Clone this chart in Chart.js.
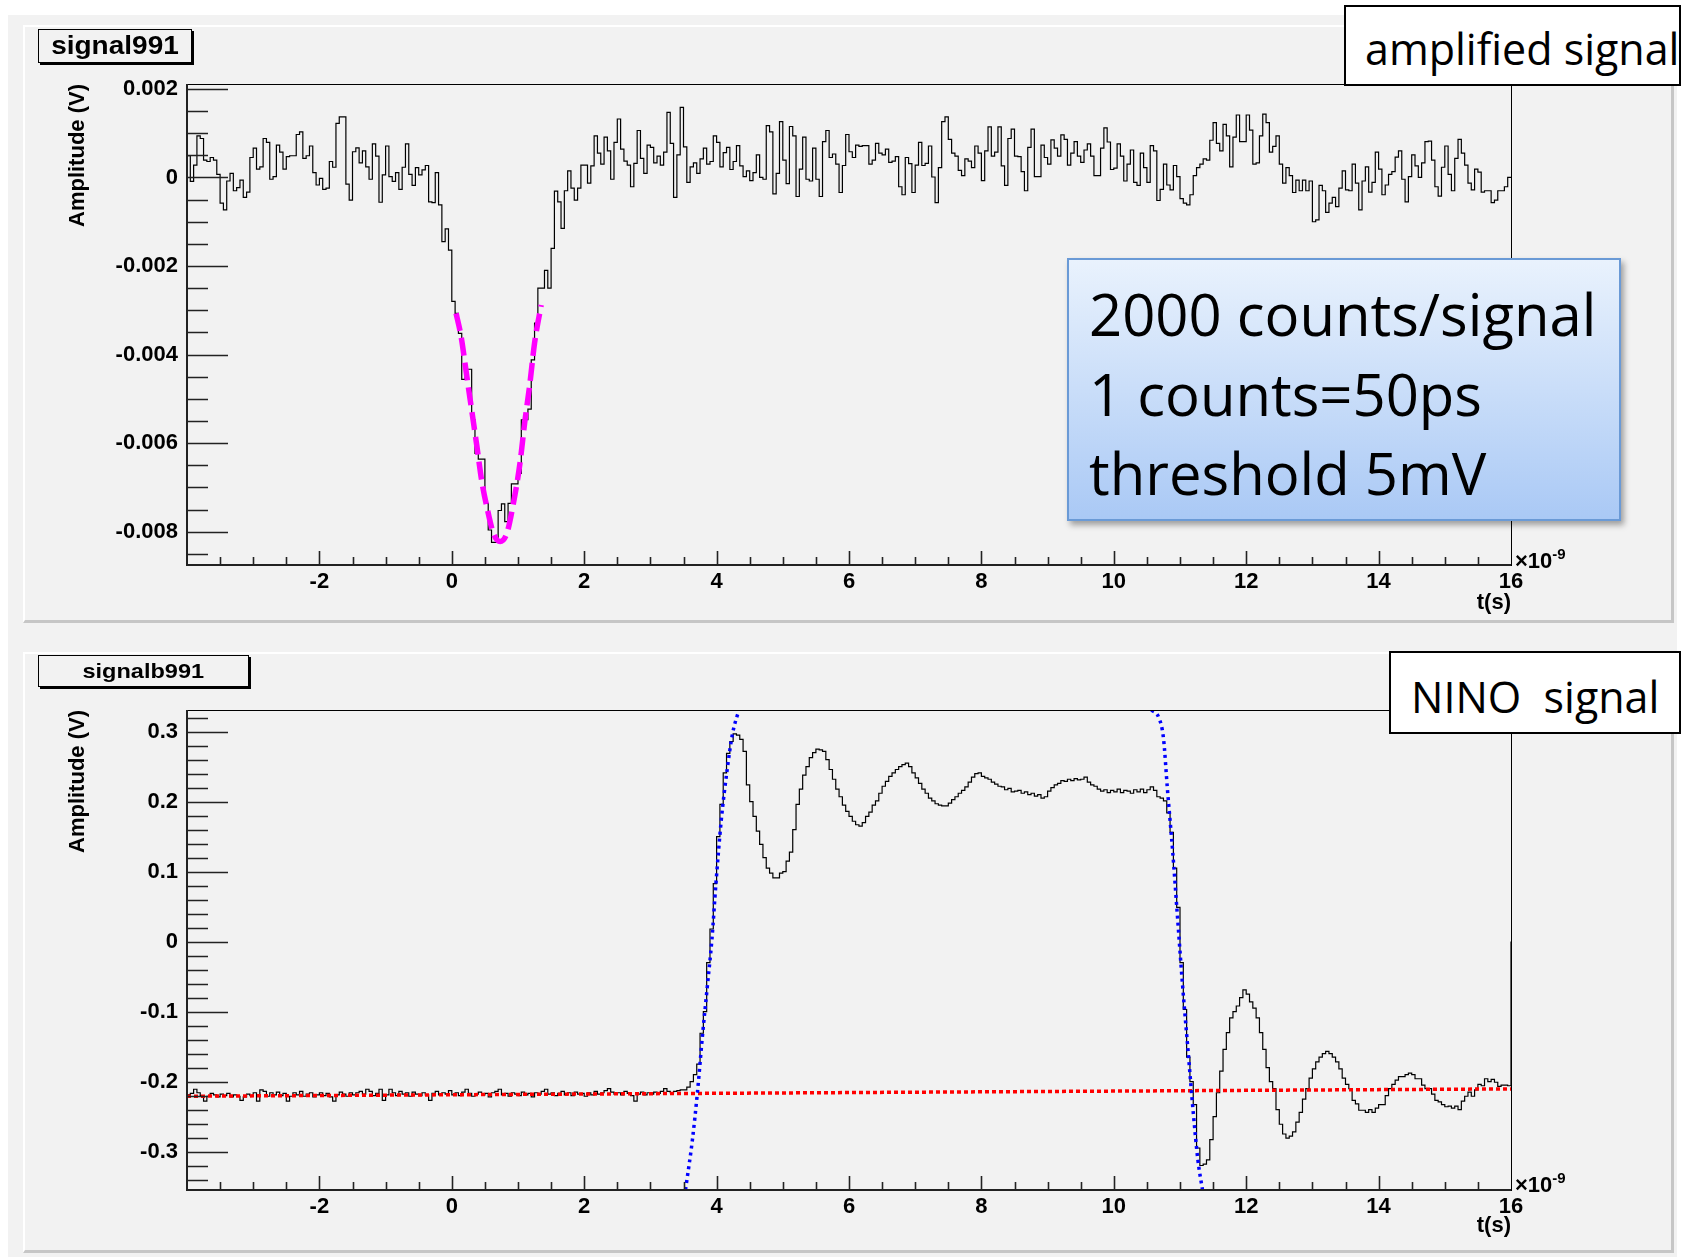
<!DOCTYPE html>
<html>
<head>
<meta charset="utf-8">
<script src="https://cdn.jsdelivr.net/npm/chart.js@4.4.0/dist/chart.umd.min.js"></script>
<style>
    body { margin: 0; width: 1683px; height: 1257px; background: #fff; position: relative; overflow: hidden; font-family: 'Liberation Sans', Arial, sans-serif; }
    #fundo { position: absolute; left: 8px; top: 15px; width: 1669px; height: 1242px; background: #f2f2f2; }
    .pad { position: absolute; left: 23px; width: 1651px; box-sizing: border-box; background: #f2f2f2;
           border-top: 2px solid #fff; border-left: 2px solid #fff; border-right: 3px solid #c6c6c6; border-bottom: 3px solid #c6c6c6; }
    canvas { position: absolute; left: 23px; }
    .titulo { position: absolute; left: 38px; box-sizing: border-box; border: 1px solid #000; box-shadow: 2px 2px 0 #000;
              background: #f2f2f2; text-align: center; font-weight: bold; }
    .titulo span { display: inline-block; transform: scaleX(1.12); }
    .expoente { position: absolute; left: 1515px; font: bold 22px 'Liberation Sans', Arial, sans-serif; line-height: 22px; }
    .expoente sup { font-size: 15px; vertical-align: 9px; }
    .rotulo { position: absolute; background: #fff; border: 2px solid #000; box-sizing: border-box;
              font-family: 'Open Sans', sans-serif; font-size: 43px; white-space: pre; }
    #caixaInfo { position: absolute; left: 1067px; top: 258px; width: 554px; height: 263px; box-sizing: border-box;
                 background: linear-gradient(#e9f2fd, #aac9f5); border: 2px solid #6a9ad6; box-shadow: 3px 4px 6px rgba(0,0,0,0.35);
                 font-family: 'Open Sans', sans-serif; font-size: 58px; line-height: 79.5px; padding: 14px 0 0 20px; color: #000; }
</style>
</head>
<body>
<div id="fundo"></div>
<div class="pad" style="top:25px; height:598px;"></div>
<div class="pad" style="top:652px; height:601px;"></div>

<canvas id="painelTopo" width="1651" height="598" style="top:25px;"></canvas>
<canvas id="painelBaixo" width="1651" height="601" style="top:652px;"></canvas>

<div class="titulo" style="top:29px; width:154px; height:34px; font-size:25px; line-height:31px;"><span>signal991</span></div>
<div class="titulo" style="top:655px; width:211px; height:32px; font-size:21px; line-height:29px;"><span>signalb991</span></div>

<div class="expoente" style="top:543px;">×10<sup>-9</sup></div>
<div class="expoente" style="top:1167px;">×10<sup>-9</sup></div>

<div class="rotulo" style="left:1344px; top:5px; width:337px; height:81px; line-height:74px; padding:5px 0 0 19px;">amplified signal</div>
<div class="rotulo" style="left:1389px; top:651px; width:292px; height:83px; line-height:74px; padding:7px 0 0 20px;">NINO  signal</div>

<div id="caixaInfo">2000 counts/signal<br>1 counts=50ps<br>threshold 5mV</div>

<script>
// histogramas: 400 bins de 50 ps, de -4 ns a 16 ns
var inicioBins = -4;
var larguraBin = 0.05;

// signal991 (amplitude em mV)
var sinalAmplificado = [
    0.49, -0.09, 0.28, 0.94, 0.88, 0.39, 0.36, 0.45, 0.39, 0.07,
    -0.58, -0.73, -0.08, 0.09, -0.30, -0.23, -0.06, -0.45, -0.33, 0.45,
    0.66, 0.19, 0.24, 0.88, 0.79, -0.04, 0.02, 0.73, 0.57, 0.19,
    0.47, 0.49, 0.49, 0.97, 1.03, 0.43, 0.49, 0.71, 0.11, -0.17,
    -0.02, -0.27, -0.24, 0.36, 0.23, 1.22, 1.37, 1.37, -0.15, -0.51,
    0.58, 0.67, 0.33, 0.60, 0.24, -0.04, 0.76, 0.48, -0.56, 0.06,
    0.71, 0.02, -0.09, 0.11, -0.27, 0.23, 0.76, 0.07, -0.18, 0.22,
    0.06, 0.17, 0.27, -0.55, -0.57, 0.11, -0.62, -1.45, -1.16, -1.64,
    -2.80, -3.07, -3.52, -4.56, -4.33, -4.33, -5.47, -6.23, -6.36, -6.36,
    -7.36, -7.96, -8.24, -8.24, -7.52, -7.37, -7.77, -7.36, -6.92, -6.92,
    -6.68, -5.47, -5.47, -5.23, -4.12, -3.29, -2.50, -2.50, -2.10, -2.50,
    -1.60, -0.31, -0.55, -1.15, -0.30, 0.15, -0.24, -0.51, -0.24, 0.28,
    0.28, -0.13, 0.26, 0.94, 0.55, 0.30, 0.91, 0.60, -0.04, 0.79,
    1.32, 0.64, 0.37, 0.28, -0.21, 0.32, 1.06, 0.43, 0.09, 0.73,
    0.68, 0.33, 0.48, 0.28, 0.57, 1.47, 0.77, -0.45, 0.51, 1.58,
    0.69, -0.11, 0.24, 0.33, 0.09, 0.42, 0.66, 0.30, 0.36, 0.94,
    0.79, 0.24, 0.56, 0.68, 0.18, 0.36, 0.72, 0.26, 0.02, 0.15,
    -0.07, 0.11, 0.51, 0.00, -0.04, 1.17, 1.03, -0.37, 0.09, 1.26,
    0.39, -0.14, 1.15, 0.94, -0.43, 0.19, 0.91, -0.04, -0.08, 0.66,
    -0.04, -0.43, 0.81, 1.06, 0.45, 0.53, 0.30, -0.34, 0.27, 0.97,
    0.58, 0.45, 0.73, 0.70, 0.72, 0.72, 0.30, 0.39, 0.77, 0.55,
    0.51, 0.64, 0.34, 0.37, 0.47, -0.21, -0.39, 0.45, 0.31, -0.34,
    0.28, 0.79, 0.27, 0.32, 0.71, 0.01, -0.57, 0.22, 1.26, 1.37,
    0.86, 0.55, 0.48, 0.16, 0.04, 0.42, 0.37, 0.22, 0.71, 0.55,
    -0.07, 0.60, 1.14, 0.48, 0.57, 1.14, 0.26, -0.18, 0.88, 1.09,
    0.48, 0.47, 0.13, -0.30, 0.68, 1.09, 0.02, 0.02, 0.73, 0.45,
    0.30, 0.85, 0.66, 0.48, 0.96, 0.86, 0.28, 0.55, 0.81, 0.48,
    0.34, 0.62, 0.76, 0.48, 0.04, 0.04, 0.66, 1.12, 0.80, 0.18,
    0.21, 0.76, 0.48, -0.08, 0.30, 0.62, -0.11, -0.18, 0.55, 0.22,
    -0.11, 0.72, 0.60, -0.52, -0.27, 0.30, -0.17, -0.28, 0.27, 0.02,
    -0.48, -0.58, -0.62, -0.39, 0.04, 0.22, 0.30, 0.42, 0.39, 0.84,
    1.24, 0.77, 0.60, 1.20, 0.94, 0.24, 0.91, 1.41, 0.81, 0.81,
    1.41, 1.07, 0.30, 0.33, 0.94, 1.43, 1.24, 0.57, 0.70, 0.94,
    0.30, -0.13, 0.22, 0.04, -0.34, -0.06, -0.30, -0.06, -0.30, -0.08,
    -1.00, -0.96, -0.18, -0.30, -0.79, -0.58, -0.45, -0.66, -0.24, 0.15,
    -0.28, -0.30, 0.30, -0.13, -0.73, -0.08, 0.24, -0.33, -0.11, 0.57,
    0.19, -0.39, -0.17, 0.07, 0.13, 0.46, 0.60, -0.04, -0.55, 0.02,
    0.51, 0.26, 0.00, 0.33, 0.81, 0.82, 0.39, -0.21, -0.42, 0.23,
    0.71, 0.07, -0.30, 0.43, 0.86, 0.55, 0.28, -0.13, -0.28, 0.19,
    0.12, -0.33, -0.30, -0.30, -0.57, -0.51, -0.30, -0.30, -0.21, 0.00
];

// signalb991 (amplitude em V)
var sinalNino = [
    -0.219, -0.217, -0.211, -0.216, -0.220, -0.228, -0.221, -0.217, -0.219, -0.222,
    -0.218, -0.220, -0.217, -0.222, -0.219, -0.221, -0.227, -0.222, -0.218, -0.220,
    -0.216, -0.228, -0.212, -0.214, -0.221, -0.216, -0.219, -0.215, -0.220, -0.217,
    -0.228, -0.221, -0.216, -0.219, -0.214, -0.221, -0.218, -0.216, -0.222, -0.219,
    -0.216, -0.220, -0.217, -0.222, -0.228, -0.219, -0.215, -0.218, -0.221, -0.216,
    -0.219, -0.216, -0.214, -0.218, -0.211, -0.214, -0.220, -0.217, -0.211, -0.227,
    -0.219, -0.211, -0.216, -0.220, -0.214, -0.218, -0.216, -0.221, -0.215, -0.218,
    -0.220, -0.216, -0.219, -0.227, -0.217, -0.214, -0.219, -0.216, -0.218, -0.213,
    -0.219, -0.216, -0.220, -0.215, -0.211, -0.217, -0.221, -0.218, -0.215, -0.219,
    -0.217, -0.222, -0.216, -0.214, -0.211, -0.219, -0.217, -0.221, -0.216, -0.218,
    -0.220, -0.215, -0.219, -0.217, -0.222, -0.216, -0.218, -0.214, -0.211, -0.218,
    -0.216, -0.220, -0.217, -0.214, -0.219, -0.216, -0.220, -0.215, -0.218, -0.217,
    -0.221, -0.216, -0.219, -0.214, -0.218, -0.216, -0.213, -0.210, -0.215, -0.218,
    -0.216, -0.219, -0.214, -0.217, -0.220, -0.228, -0.218, -0.215, -0.219, -0.216,
    -0.218, -0.215, -0.217, -0.214, -0.210, -0.214, -0.216, -0.214, -0.213, -0.212,
    -0.212, -0.208, -0.200, -0.190, -0.175, -0.131, -0.100, -0.030, 0.018, 0.083,
    0.150, 0.196, 0.241, 0.269, 0.286, 0.297, 0.295, 0.289, 0.272, 0.224,
    0.200, 0.179, 0.158, 0.139, 0.120, 0.105, 0.098, 0.091, 0.091, 0.098,
    0.100, 0.115, 0.128, 0.160, 0.196, 0.218, 0.238, 0.250, 0.263, 0.270,
    0.275, 0.274, 0.272, 0.260, 0.246, 0.232, 0.218, 0.207, 0.195, 0.186,
    0.179, 0.172, 0.167, 0.165, 0.170, 0.179, 0.185, 0.195, 0.201, 0.212,
    0.222, 0.229, 0.236, 0.241, 0.246, 0.250, 0.253, 0.255, 0.250, 0.241,
    0.234, 0.226, 0.218, 0.212, 0.205, 0.201, 0.197, 0.195, 0.194, 0.194,
    0.198, 0.203, 0.207, 0.212, 0.216, 0.221, 0.228, 0.235, 0.240, 0.241,
    0.236, 0.234, 0.232, 0.228, 0.225, 0.222, 0.221, 0.217, 0.219, 0.214,
    0.215, 0.216, 0.212, 0.214, 0.210, 0.212, 0.208, 0.210, 0.205, 0.207,
    0.215, 0.220, 0.224, 0.226, 0.230, 0.229, 0.232, 0.230, 0.233, 0.231,
    0.232, 0.235, 0.228, 0.224, 0.222, 0.218, 0.215, 0.217, 0.213, 0.216,
    0.214, 0.218, 0.213, 0.216, 0.215, 0.212, 0.217, 0.214, 0.218, 0.213,
    0.217, 0.221, 0.216, 0.207, 0.205, 0.201, 0.184, 0.156, 0.105, 0.049,
    -0.030, -0.097, -0.165, -0.200, -0.233, -0.295, -0.320, -0.318, -0.312, -0.283,
    -0.250, -0.216, -0.185, -0.154, -0.130, -0.109, -0.100, -0.092, -0.080, -0.069,
    -0.075, -0.086, -0.095, -0.109, -0.130, -0.154, -0.180, -0.200, -0.210, -0.240,
    -0.261, -0.275, -0.281, -0.278, -0.272, -0.258, -0.244, -0.225, -0.210, -0.195,
    -0.182, -0.172, -0.165, -0.160, -0.157, -0.160, -0.165, -0.172, -0.182, -0.195,
    -0.204, -0.210, -0.227, -0.232, -0.241, -0.241, -0.244, -0.240, -0.244, -0.238,
    -0.233, -0.233, -0.220, -0.210, -0.204, -0.198, -0.193, -0.193, -0.190, -0.188,
    -0.190, -0.196, -0.196, -0.205, -0.210, -0.210, -0.218, -0.227, -0.229, -0.233,
    -0.236, -0.235, -0.238, -0.235, -0.240, -0.228, -0.221, -0.215, -0.221, -0.212,
    -0.204, -0.206, -0.196, -0.200, -0.197, -0.201, -0.207, -0.205, -0.205, -0.206
];

// ajuste gaussiano do pulso (t em ns, amplitude em mV)
var gaussT = [0.065, 0.14, 0.22, 0.30, 0.38, 0.45, 0.54, 0.63, 0.73, 0.83, 0.93, 1.03, 1.10, 1.18, 1.25, 1.35];
var gaussV = [-3.07, -3.59, -4.42, -5.25, -6.08, -6.83, -7.51, -8.04, -8.22, -8.04, -7.36, -6.45, -5.55, -4.65, -3.74, -2.88];

// ajustes das bordas do NINO (V)
var subidaT = [3.53, 3.635, 3.71, 3.79, 3.86, 3.93, 3.99, 4.07, 4.16, 4.24, 4.34];
var subidaV = [-0.355, -0.283, -0.216, -0.131, -0.064, 0.004, 0.083, 0.173, 0.246, 0.297, 0.332];
var descidaT = [10.57, 10.68, 10.75, 10.81, 10.89, 10.96, 11.04, 11.12, 11.20, 11.27, 11.34];
var descidaV = [0.331, 0.320, 0.291, 0.218, 0.128, 0.038, -0.064, -0.154, -0.244, -0.312, -0.355];

// linha de base (pol1)
var baseT = [-4, 16];
var baseV = [-0.221, -0.2105];

// eixos
var ticksX = [-2, 0, 2, 4, 6, 8, 10, 12, 14, 16];
var rotulosX = ['-2', '0', '2', '4', '6', '8', '10', '12', '14', '16'];
var ticksTopoY = [-0.008, -0.006, -0.004, -0.002, 0, 0.002];
var rotulosTopoY = ['-0.008', '-0.006', '-0.004', '-0.002', '0', '0.002'];
var ticksBaixoY = [-0.3, -0.2, -0.1, 0, 0.1, 0.2, 0.3];
var rotulosBaixoY = ['-0.3', '-0.2', '-0.1', '0', '0.1', '0.2', '0.3'];


function pontosHistograma(valores, escala) {
    var pts = [{ x: inicioBins, y: 0 }];
    for (var i = 0; i < valores.length; i++) {
        pts.push({ x: inicioBins + i * larguraBin, y: valores[i] * escala });
    }
    var fim = inicioBins + valores.length * larguraBin;
    pts.push({ x: fim, y: valores[valores.length - 1] * escala });
    pts.push({ x: fim, y: 0 });
    return pts;
}

function juntarPontos(ts, vs, escala) {
    return ts.map(function (t, i) { return { x: t, y: vs[i] * escala }; });
}

// moldura e ticks internos no estilo ROOT
var molduraRoot = {
    id: 'molduraRoot',
    afterDatasetsDraw: function (chart, args, opts) {
        var ctx = chart.ctx;
        var area = chart.chartArea;
        var sx = chart.scales.x;
        var sy = chart.scales.y;
        ctx.save();
        ctx.strokeStyle = '#000';
        ctx.lineWidth = 1;
        ctx.strokeRect(area.left + 0.5, area.top + 0.5, area.right - area.left, area.bottom - area.top);

        ctx.strokeStyle = '#222';
        ctx.lineWidth = 1.6;
        ctx.beginPath();
        var n, p, tam;
        for (n = Math.ceil(sy.min / opts.yPasso - 1e-6); n <= Math.floor(sy.max / opts.yPasso + 1e-6); n++) {
            p = Math.round(sy.getPixelForValue(n * opts.yPasso)) + 0.5;
            tam = (n % opts.ySub === 0) ? opts.yMaior : opts.yMenor;
            ctx.moveTo(area.left, p);
            ctx.lineTo(area.left + tam, p);
        }
        for (n = Math.ceil(sx.min / opts.xPasso - 1e-6) + 1; n < Math.floor(sx.max / opts.xPasso + 1e-6); n++) {
            p = Math.round(sx.getPixelForValue(n * opts.xPasso)) + 0.5;
            tam = (n % opts.xSub === 0) ? opts.xMaior : opts.xMenor;
            ctx.moveTo(p, area.bottom);
            ctx.lineTo(p, area.bottom - tam);
        }
        ctx.stroke();

        ctx.lineWidth = 2;
        ctx.beginPath();
        ctx.moveTo(area.left, area.top);
        ctx.lineTo(area.left, area.bottom);
        ctx.lineTo(area.right, area.bottom);
        ctx.stroke();
        ctx.restore();
    }
};

var fonteTick = { family: 'Liberation Sans', size: 22, weight: 'bold' };
var fonteTitulo = { family: 'Liberation Sans', size: 22, weight: 'bold' };

function criarPainel(id, datasets, y, x) {
    return new Chart(document.getElementById(id), {
        type: 'line',
        data: { datasets: datasets },
        plugins: [molduraRoot],
        options: {
            responsive: false,
            animation: false,
            devicePixelRatio: 1,
            layout: { padding: { left: 0, right: 163, top: y.topo, bottom: 0 } },
            plugins: {
                legend: { display: false },
                tooltip: { enabled: false },
                molduraRoot: {
                    yPasso: y.passoMenor, ySub: y.sub, yMaior: 41, yMenor: 21,
                    xPasso: 0.5, xSub: 4, xMaior: 14, xMenor: 8
                }
            },
            elements: { point: { radius: 0 } },
            scales: {
                x: {
                    type: 'linear',
                    min: -4,
                    max: 16,
                    afterFit: function (eixo) { eixo.height = x.altura; },
                    afterBuildTicks: function (eixo) {
                        eixo.ticks = ticksX.map(function (v) { return { value: v }; });
                    },
                    grid: { display: false, drawTicks: false },
                    border: { display: false },
                    ticks: {
                        color: '#000', font: fonteTick, padding: 4, autoSkip: false, maxRotation: 0,
                        callback: function (v, i) { return rotulosX[i]; }
                    },
                    title: {
                        display: true, text: 't(s)', align: 'end', color: '#000', font: fonteTitulo,
                        padding: { top: 0, bottom: x.tituloBaixo }
                    }
                },
                y: {
                    type: 'linear',
                    min: y.min,
                    max: y.max,
                    afterFit: function (eixo) { eixo.width = 164; },
                    afterBuildTicks: function (eixo) {
                        eixo.ticks = y.ticks.map(function (v) { return { value: v }; });
                    },
                    grid: { display: false, drawTicks: false },
                    border: { display: false },
                    ticks: {
                        color: '#000', font: fonteTick, padding: 9,
                        callback: function (v, i) { return y.rotulos[i]; }
                    },
                    title: {
                        display: true, text: 'Amplitude (V)', align: 'end', color: '#000', font: fonteTitulo,
                        padding: { top: 42, bottom: 0 }
                    }
                }
            }
        }
    });
}

// painel de cima: sinal amplificado
criarPainel('painelTopo', [
    {
        data: juntarPontos(gaussT, gaussV, 0.001),
        borderColor: '#ff00ff',
        borderWidth: 5.5,
        borderDash: [18, 7],
        cubicInterpolationMode: 'monotone'
    },
    {
        data: pontosHistograma(sinalAmplificado, 0.001),
        borderColor: '#000',
        borderWidth: 1.2,
        stepped: 'before',
        clip: 3
    }
], { min: -0.00875, max: 0.00211, ticks: ticksTopoY, rotulos: rotulosTopoY, passoMenor: 0.0005, sub: 4, topo: 59 },
   { altura: 58, tituloBaixo: 7 });

// painel de baixo: sinal do NINO
criarPainel('painelBaixo', [
    {
        data: juntarPontos(subidaT, subidaV, 1),
        borderColor: '#0000ff',
        borderWidth: 3.5,
        borderDash: [3, 4],
        cubicInterpolationMode: 'monotone'
    },
    {
        data: juntarPontos(descidaT, descidaV, 1),
        borderColor: '#0000ff',
        borderWidth: 3.5,
        borderDash: [3, 4],
        cubicInterpolationMode: 'monotone'
    },
    {
        data: juntarPontos(baseT, baseV, 1),
        borderColor: '#ff0000',
        borderWidth: 3.5,
        borderDash: [4, 3]
    },
    {
        data: pontosHistograma(sinalNino, 1),
        borderColor: '#000',
        borderWidth: 1.2,
        stepped: 'before',
        clip: 3
    }
], { min: -0.355, max: 0.331, ticks: ticksBaixoY, rotulos: rotulosBaixoY, passoMenor: 0.02, sub: 5, topo: 58 },
   { altura: 63, tituloBaixo: 14 });
</script>
</body>
</html>
